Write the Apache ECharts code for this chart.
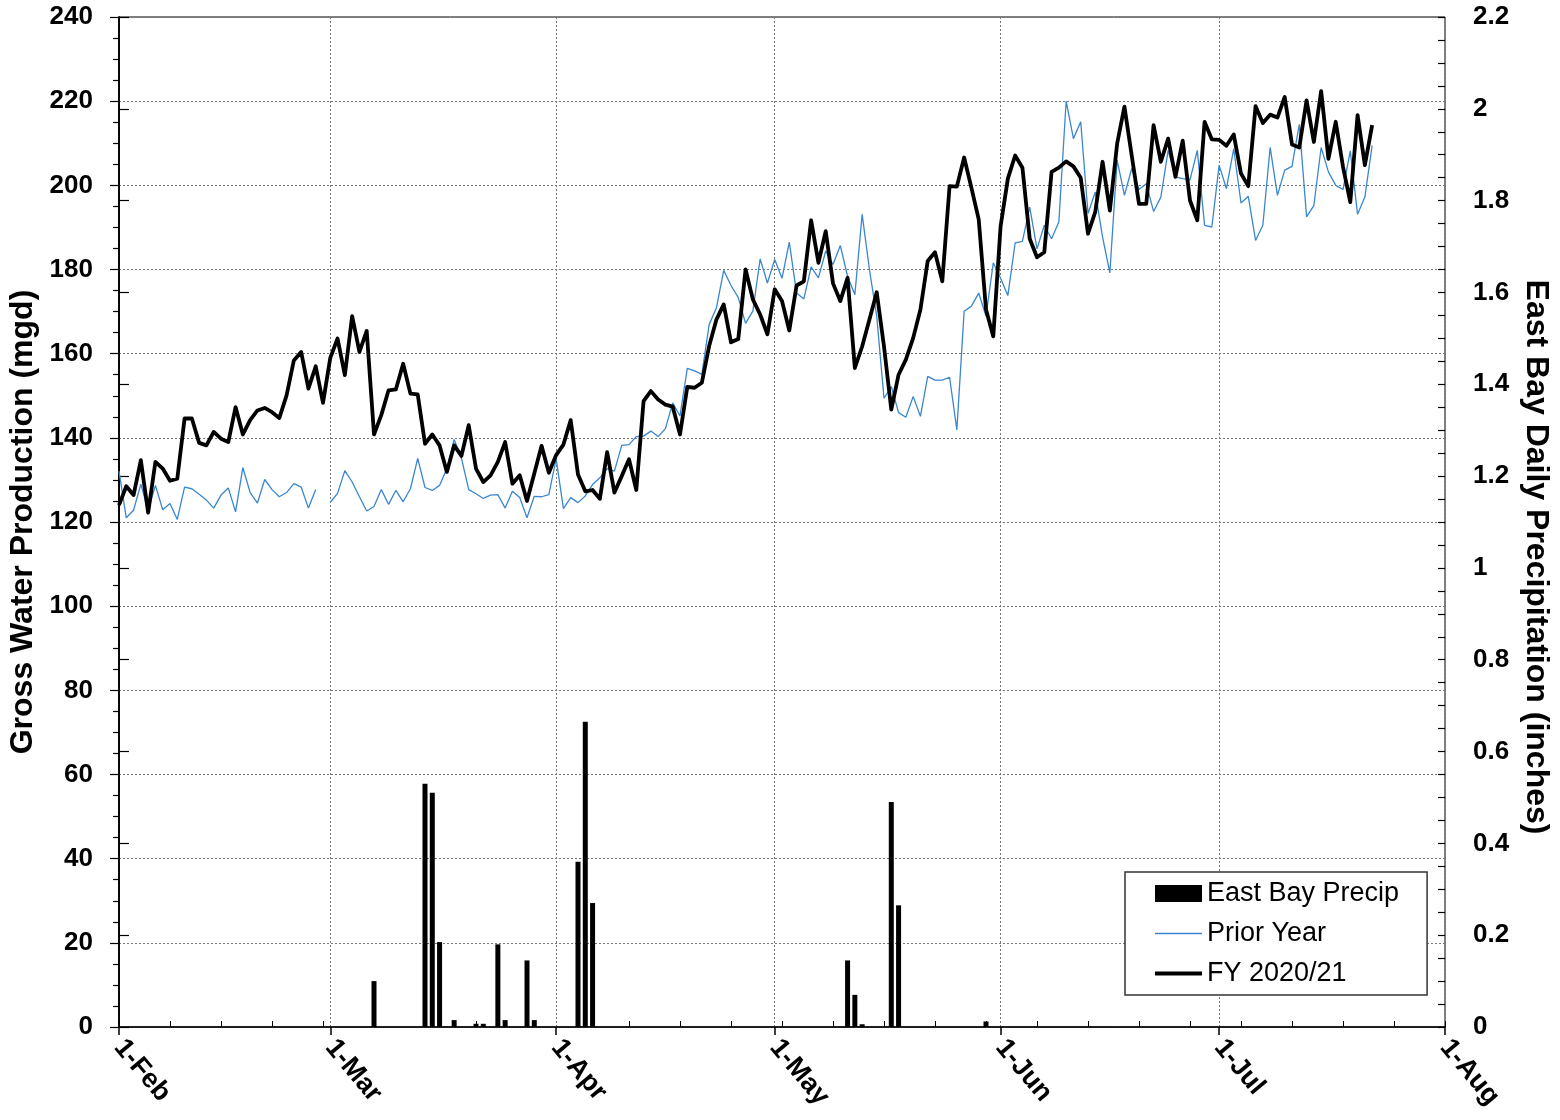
<!DOCTYPE html>
<html>
<head>
<meta charset="utf-8">
<script src="https://cdn.jsdelivr.net/npm/echarts@6/dist/echarts.min.js"></script>
<style>
html,body{margin:0;padding:0;background:#fff;}
#chart{width:1560px;height:1120px;}
</style>
</head>
<body>
<div id="chart"></div>
<script>
// Day index 0 = 1-Feb (2020 calendar, Feb has 29 days)
const monthStartDays = [0, 29, 60, 90, 121, 151, 182];
const monthLabels = ['1-Feb', '1-Mar', '1-Apr', '1-May', '1-Jun', '1-Jul', '1-Aug'];

// FY 2020/21 daily gross water production (mgd), day 0..172
const fyValues = [
124.0,128.5,126.4,134.7,122.2,134.3,132.7,129.8,130.3,144.6,
144.6,138.8,138.2,141.4,139.8,139.0,147.3,140.8,144.2,146.5,
147.1,146.1,144.7,150.1,158.4,160.4,151.7,157.0,148.3,159.0,
163.6,154.9,168.9,160.4,165.4,140.8,145.4,151.3,151.5,157.6,
150.5,150.3,138.6,140.8,138.2,131.9,138.2,135.7,143.0,132.7,
129.5,131.1,134.3,139.0,129.1,131.1,125.0,131.5,138.1,131.7,
135.9,138.4,144.2,131.3,127.3,127.6,125.5,136.6,127.0,130.9,
134.9,127.6,148.7,151.1,149.1,147.9,147.4,140.8,152.1,151.9,
153.1,161.8,168.1,171.7,162.7,163.5,180.0,172.9,169.3,164.6,
175.3,172.5,165.5,176.2,177.2,191.7,181.6,189.1,176.7,172.5,
178.0,156.6,161.7,168.1,174.6,161.7,146.7,155.0,158.6,163.7,
170.5,182.0,184.1,177.2,199.8,199.7,206.6,199.4,191.9,170.5,
164.1,190.2,201.6,207.1,204.2,187.3,182.9,184.1,203.2,204.2,
205.7,204.5,201.8,188.5,193.7,205.6,194.0,209.9,218.7,207.1,
195.6,195.6,214.3,205.6,211.1,202.0,210.6,196.4,191.7,215.1,
210.9,210.8,209.4,212.1,202.8,199.8,218.8,214.8,216.8,216.1,
221.0,209.7,209.0,220.2,210.3,222.4,206.3,215.1,204.4,196.0,
216.7,204.8,214.3
];

// Prior year daily gross water production (mgd), day 0..172 (no 29-Feb)
const priorValues = [
132.1,121.0,122.8,129.0,122.8,128.7,122.9,124.4,120.6,128.3,
127.9,126.6,125.2,123.3,126.4,128.1,122.4,132.9,127.0,124.5,
130.1,127.7,126.0,127.0,129.1,128.3,123.3,127.7,null,124.7,
126.8,132.2,129.5,126.0,122.6,123.7,127.7,124.2,127.5,124.8,
127.9,135.1,128.2,127.5,128.7,132.7,139.6,135.2,127.7,126.7,
125.6,126.4,126.5,123.3,127.3,125.8,121.0,126.1,126.0,126.5,
135.0,123.2,125.8,124.6,126.2,128.9,130.5,132.7,132.1,138.2,
138.4,140.3,140.4,141.6,140.3,142.2,148.3,145.2,156.5,155.9,
155.1,166.9,170.9,179.8,176.2,173.3,167.2,170.1,182.5,176.8,
182.4,177.9,186.5,174.4,173.0,180.6,178.0,184.4,181.2,185.7,
178.4,174.0,193.1,180.0,168.9,149.4,152.2,146.0,144.9,149.8,
145.1,154.6,153.7,153.7,154.4,141.9,170.1,171.3,174.4,168.9,
181.6,177.9,173.8,186.3,186.7,194.8,184.9,190.5,187.3,191.3,
220.0,211.1,215.1,193.3,198.4,187.7,179.2,206.0,197.6,204.0,
199.0,200.4,193.8,197.2,208.3,202.0,201.6,201.3,208.3,190.5,
190.1,204.8,199.2,208.7,195.8,197.4,186.9,190.5,209.0,197.6,
203.6,204.5,214.5,192.5,195.2,209.0,203.2,200.0,199.0,208.2,
193.1,197.2,209.5
];

// East Bay daily precipitation (inches): days with rain and amounts
const precipDays = [35, 42, 43, 44, 46, 49, 50, 52, 53, 56, 57, 63, 64, 65, 100, 101, 102, 106, 107, 119];
const precipInches = [0.10, 0.53, 0.51, 0.185, 0.015, 0.007, 0.007, 0.18, 0.015, 0.145, 0.015, 0.36, 0.665, 0.27, 0.145, 0.07, 0.006, 0.49, 0.265, 0.012];

const fyData = fyValues.map((v, i) => [i, v]);
const priorData = priorValues.map((v, i) => [i, v]);
const precipData = precipDays.map((d, i) => [d, precipInches[i]]);

const FONT = 'Liberation Sans, Arial, sans-serif';
const gridLine = { show: true, lineStyle: { color: '#777', width: 1, type: [2, 2] } };

const chart = echarts.init(document.getElementById('chart'));
chart.setOption({
  animation: false,
  backgroundColor: '#fff',
  textStyle: { fontFamily: FONT },
  grid: {
    left: 119, right: 115, top: 17, bottom: 93,
    containLabel: false, outerBoundsMode: 'none',
    show: true, borderColor: '#000', borderWidth: 1, backgroundColor: 'transparent'
  },
  legend: {
    left: 1125, top: 872, orient: 'vertical',
    padding: [8, 28, 8, 28],
    itemWidth: 47, itemHeight: 17, itemGap: 13,
    borderColor: '#333', borderWidth: 1.5, backgroundColor: '#fff',
    textStyle: { fontFamily: FONT, fontSize: 27, color: '#000', lineHeight: 27 },
    data: [
      { name: 'East Bay Precip', icon: 'rect' },
      { name: 'Prior Year', itemStyle: { opacity: 0 }, lineStyle: { width: 1.5, color: '#3a87d0' } },
      { name: 'FY 2020/21', itemStyle: { opacity: 0 }, lineStyle: { width: 4, color: '#000' } }
    ]
  },
  xAxis: [
    {
      type: 'value', min: 0, max: 182, position: 'bottom',
      axisLine: { show: true, onZero: false, lineStyle: { color: '#000', width: 1.5 } },
      axisTick: { show: true, inside: false, length: 8, customValues: monthStartDays, lineStyle: { color: '#000', width: 1.5 } },
      axisLabel: {
        show: true, customValues: monthStartDays, rotate: -50, margin: 16,
        fontFamily: FONT, fontSize: 27, fontWeight: 'bold', color: '#000',
        formatter: v => monthLabels[monthStartDays.indexOf(Math.round(v))]
      },
      splitLine: gridLine
    },
    {
      type: 'value', min: 0, max: 182, interval: 7, position: 'bottom',
      axisLine: { show: false },
      axisTick: { show: true, inside: true, length: 6, lineStyle: { color: '#000', width: 1 } },
      axisLabel: { show: false },
      splitLine: { show: false }
    }
  ],
  yAxis: [
    {
      type: 'value', min: 0, max: 240, interval: 20, position: 'left',
      name: 'Gross Water Production (mgd)', nameLocation: 'middle', nameGap: 77,
      nameTextStyle: { fontFamily: FONT, fontSize: 32, fontWeight: 'bold', color: '#000' },
      axisLine: { show: true, lineStyle: { color: '#000', width: 1.5 } },
      axisTick: { show: true, inside: false, length: 9, lineStyle: { color: '#000', width: 1.2 } },
      minorTick: { show: true, splitNumber: 4, length: 6, lineStyle: { color: '#000', width: 1.2 } },
      axisLabel: { fontFamily: FONT, fontSize: 26, fontWeight: 'bold', color: '#000', margin: 26 },
      splitLine: gridLine
    },
    {
      type: 'value', min: 0, max: 2.2, interval: 0.2, position: 'right',
      name: 'East Bay Daily Precipitation (inches)', nameLocation: 'middle', nameGap: 74, nameRotate: -90,
      nameTextStyle: { fontFamily: FONT, fontSize: 32, fontWeight: 'bold', color: '#000', padding: [0, 0, 0, 70] },
      axisLine: { show: true, lineStyle: { color: '#000', width: 1.5 } },
      axisTick: { show: true, inside: false, length: 10, lineStyle: { color: '#000', width: 1.2 } },
      axisLabel: { fontFamily: FONT, fontSize: 26, fontWeight: 'bold', color: '#000', margin: 28 },
      splitLine: { show: false }
    },
    {
      type: 'value', min: 0, max: 2.2, interval: 0.05, position: 'right',
      axisLine: { show: false },
      axisTick: { show: true, inside: true, length: 7, lineStyle: { color: '#000', width: 1.2 } },
      axisLabel: { show: false },
      splitLine: { show: false }
    }
  ],
  series: [
    {
      name: 'East Bay Precip', type: 'bar', xAxisIndex: 0, yAxisIndex: 1,
      data: precipData, barWidth: 5,
      itemStyle: { color: '#000' }, z: 2
    },
    {
      name: 'Prior Year', type: 'line', xAxisIndex: 0, yAxisIndex: 0,
      data: priorData, symbol: 'none', connectNulls: false,
      lineStyle: { color: '#3a87d0', width: 1.3 }, itemStyle: { color: '#3a87d0' }, z: 3
    },
    {
      name: 'FY 2020/21', type: 'line', xAxisIndex: 0, yAxisIndex: 0,
      data: fyData, symbol: 'none',
      lineStyle: { color: '#000', width: 3.8, join: 'round' }, itemStyle: { color: '#000' }, z: 4
    }
  ]
});
</script>
</body>
</html>
